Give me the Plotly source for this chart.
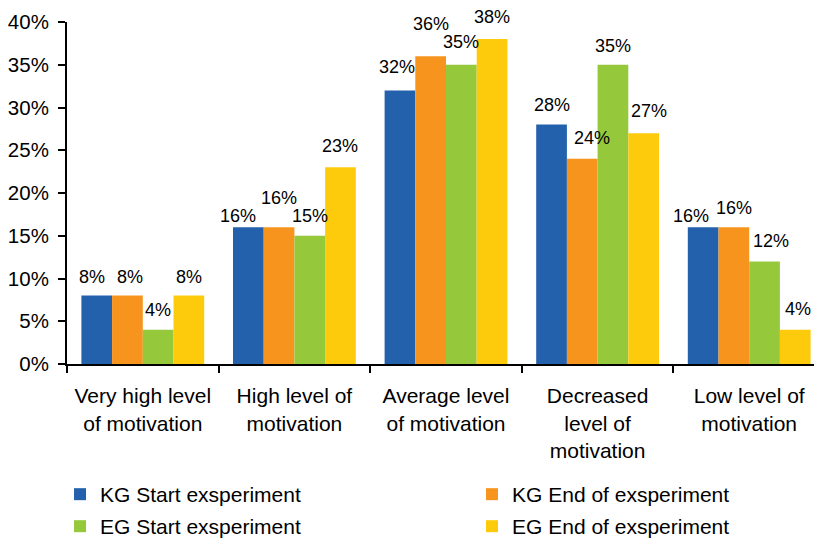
import plotly.graph_objects as go

categories = ["Very high level<br>of motivation", "High level of<br>motivation",
              "Average level<br>of motivation", "Decreased<br>level of<br>motivation",
              "Low level of<br>motivation"]
series_names = ["KG Start exsperiment", "KG End of exsperiment",
                "EG Start exsperiment", "EG End of exsperiment"]
kg_start = [8, 16, 32, 28, 16]
kg_end = [8, 16, 36, 24, 16]
eg_start = [4, 15, 35, 35, 12]
eg_end = [8, 23, 38, 27, 4]
series_values = [kg_start, kg_end, eg_start, eg_end]
colors = ["#2361AD", "#F7941E", "#96C83C", "#FDCB0C"]
legend_ids = ["legend", "legend2", "legend3", "legend4"]

# label nudges (pixels) per series x category, mimicking the original label placement
label_dx = [[-5, -10, -3, 0, -12],
            [3, 0, 0, 10, 0],
            [0, 0, 0, 0, 6],
            [0, 0, 0, 5, 3]]
label_dy = [[19, 11, 23, 20, 11],
            [19, 29, 32, 21, 19],
            [20, 20, 23, 19, 20],
            [19, 21, 22, 22, 21]]

FONT = "Liberation Sans, Arial, sans-serif"
W, H = 822, 539
ML, MR, MT, MB = 59, 5, 14, 183
BARGAP = 0.19
n_series = len(series_values)
cat_px = (W - ML - MR) / len(categories)
bar_px = cat_px * (1 - BARGAP) / n_series

fig = go.Figure()
for name, vals, col, lg in zip(series_names, series_values, colors, legend_ids):
    fig.add_trace(go.Bar(
        x=categories, y=vals, name=name, marker_color=col, marker_line_width=0,
        legend=lg, showlegend=True, hoverinfo="x+y+name",
    ))

annotations = []
for i, vals in enumerate(series_values):
    for j, (cat, v) in enumerate(zip(categories, vals)):
        annotations.append(dict(
            x=cat, y=v, xref="x", yref="y", text=f"{v}%", showarrow=False,
            xanchor="center", yanchor="middle",
            xshift=(i - (n_series - 1) / 2) * bar_px + label_dx[i][j],
            yshift=label_dy[i][j],
            font=dict(size=18, color="black", family=FONT),
        ))

leg_common = dict(xref="container", yref="container", xanchor="left", yanchor="top",
                  orientation="v", font=dict(size=21), bgcolor="rgba(0,0,0,0)")
col_x = [0.0633, 0.5645, 0.0633, 0.5645]
row_y = [0.1354, 0.1354, 0.076, 0.076]

fig.update_layout(
    width=W, height=H,
    margin=dict(l=ML, r=MR, t=MT, b=MB, autoexpand=False),
    plot_bgcolor="white", paper_bgcolor="white",
    font=dict(family=FONT, size=21, color="black"),
    barmode="group", bargap=BARGAP, bargroupgap=0,
    showlegend=True,
    annotations=annotations,
    **{lid: dict(x=cx, y=ry, visible=True, **leg_common)
       for lid, cx, ry in zip(legend_ids, col_x, row_y)},
)
fig.update_yaxes(range=[0, 40], dtick=5, ticksuffix="%", showgrid=False, zeroline=False,
                 showline=True, linecolor="black", linewidth=2,
                 ticks="outside", ticklen=7, tickwidth=2, tickcolor="black",
                 ticklabelstandoff=5, tickfont=dict(size=20.5))
fig.update_xaxes(range=[-0.5, 4.5], showgrid=False, showline=True, linecolor="black",
                 linewidth=2, ticks="outside", ticklen=7, tickwidth=2, tickcolor="black",
                 tickson="boundaries", tickangle=0, ticklabelstandoff=12,
                 tickfont=dict(size=21))

fig.write_html("out.html")
